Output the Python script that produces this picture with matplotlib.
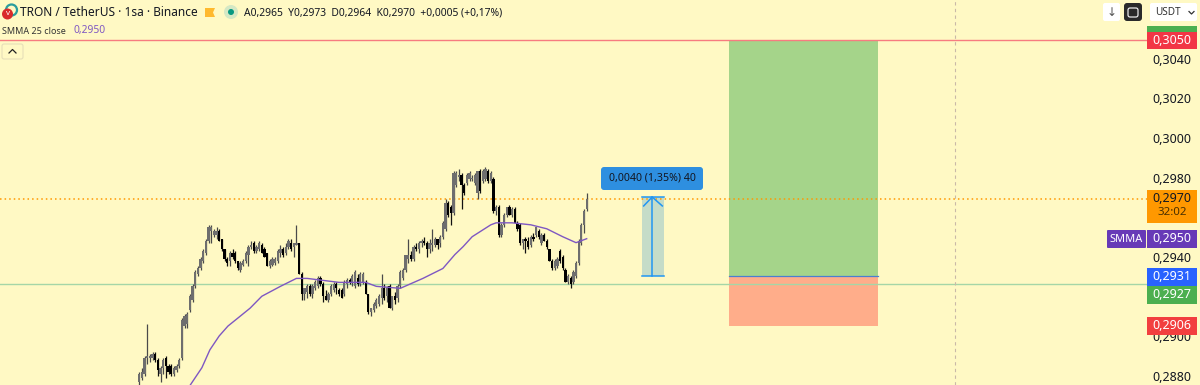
import matplotlib
matplotlib.use("Agg")
import matplotlib.pyplot as plt
from matplotlib.patches import Rectangle, FancyBboxPatch, Circle, Polygon

plt.rcParams['font.family'] = ['Noto Sans', 'DejaVu Sans']

# prices are in units of 0.0001
opens = [2878,2880,2882,2890,2890,2890,2892,2889,2882,2885,2890,2886,2886,2882,2884,2886,2890,
         2906,2907,2914,2919,2926,2932,2935,2939,2943,2949,2954,2952,2952,2954,2950,2945,2940,2939,2943,2943,
         2939,2934,2937,2939,2942,2946,2948,2944,2945,2947,2945,2943,2936,2937,2938,2939,2943,2945,2943,2946,
         2948,2946,2947,2948,2932,2922,2923,2926,2922,2925,2926,2930,2927,2921,2919,2922,2924,2927,2924,2924,
         2922,2927,2929,2928,2926,2930,2927,2928,2928,2922,2913,2914,2916,2917,2920,2925,2921,2926,2915,2921,
         2920,2926,2930,2934,2940,2942,2940,2946,2945,2948,2949,2948,2945,2947,2947,2950,2948,2951,2955,2968,
         2966,2963,2977,2981,2982,2977,2978,2980,2980,2978,2973,2984,2979,2980,2984,2979,2980,2964,2966,2952,
         2957,2962,2966,2962,2965,2958,2957,2948,2950,2949,2947,2951,2952,2954,2948,2952,2949,2945,2939,2935,
         2936,2944,2941,2934,2928,2930,2928,2931,2938,2948,2957,2965]
highs = [2883,2885,2891,2907,2892,2893,2893,2890,2886,2890,2891,2887,2887,2886,2887,2890,2910,
         2912,2913,2922,2927,2934,2936,2941,2945,2950,2957,2957,2955,2956,2955,2950,2945,2941,2944,2945,2944,
         2939,2939,2940,2944,2947,2949,2949,2947,2949,2948,2946,2943,2940,2941,2941,2945,2947,2946,2948,2950,
         2950,2948,2957,2948,2933,2925,2927,2927,2927,2929,2931,2931,2928,2924,2923,2927,2928,2928,2925,2925,
         2929,2930,2930,2932,2934,2932,2933,2933,2929,2922,2915,2918,2920,2922,2932,2927,2926,2927,2921,2923,
         2927,2934,2935,2942,2950,2944,2947,2948,2949,2950,2951,2949,2950,2955,2951,2950,2952,2959,2970,2969,
         2967,2984,2984,2985,2983,2978,2983,2984,2982,2983,2984,2985,2985,2986,2985,2984,2981,2967,2967,2958,
         2963,2966,2967,2966,2966,2959,2958,2950,2951,2951,2952,2953,2956,2955,2953,2953,2950,2945,2940,2940,
         2941,2945,2942,2935,2932,2931,2934,2939,2950,2958,2965,2973]
lows = [2876,2879,2881,2887,2888,2889,2888,2881,2878,2882,2880,2882,2881,2881,2883,2885,2889,
        2905,2905,2913,2918,2925,2931,2934,2938,2942,2948,2948,2951,2950,2949,2944,2939,2936,2936,2940,2938,
        2934,2933,2936,2938,2936,2945,2943,2943,2944,2943,2941,2936,2935,2936,2937,2938,2941,2941,2942,2945,
        2944,2941,2947,2932,2919,2919,2920,2921,2920,2924,2925,2926,2918,2919,2918,2921,2923,2922,2921,2920,
        2921,2925,2927,2926,2925,2926,2926,2927,2922,2912,2911,2913,2915,2916,2917,2919,2918,2915,2914,2917,
        2918,2925,2929,2933,2938,2939,2939,2944,2943,2946,2947,2941,2943,2944,2946,2945,2946,2950,2954,2961,
        2957,2962,2976,2979,2965,2972,2977,2979,2979,2977,2970,2973,2978,2979,2978,2978,2963,2962,2951,2951,
        2956,2961,2962,2961,2958,2954,2947,2945,2943,2945,2946,2949,2951,2950,2947,2949,2945,2939,2934,2934,
        2935,2938,2934,2928,2927,2925,2927,2930,2937,2947,2953,2964]
closes = [2882,2883,2890,2891,2891,2892,2889,2884,2885,2889,2886,2883,2882,2885,2886,2889,2909,
          2911,2912,2921,2926,2933,2935,2940,2944,2949,2956,2956,2954,2954,2949,2945,2940,2938,2943,2941,2939,
          2935,2938,2939,2943,2946,2947,2944,2946,2948,2943,2941,2936,2939,2940,2940,2944,2945,2942,2946,2949,
          2945,2948,2948,2932,2922,2925,2926,2922,2926,2928,2930,2927,2921,2919,2922,2926,2927,2925,2922,2920,
          2928,2929,2928,2931,2933,2927,2932,2932,2922,2913,2915,2917,2919,2921,2925,2920,2925,2915,2921,2919,
          2926,2933,2934,2942,2942,2940,2946,2945,2948,2949,2948,2945,2948,2947,2950,2947,2951,2958,2968,2962,
          2963,2983,2983,2982,2977,2973,2982,2983,2980,2982,2984,2974,2984,2985,2979,2983,2964,2966,2952,2957,
          2962,2966,2962,2965,2958,2955,2948,2950,2949,2946,2951,2950,2956,2951,2952,2949,2946,2939,2935,2939,
          2940,2939,2935,2928,2931,2927,2933,2938,2949,2957,2964,2970]

smma_bars = [19,23.5,26.5,30,33.3,37,41.6,46,53,59,63,69,75,85,89,98,106.5,114,118.5,121.6,125,132,134,140,147,153,159,164,168]
smma_vals = [2876,2885,2894,2901,2906,2910,2915,2921,2926,2930,2930,2929,2928,2928,2926,2925,2930,2935,2942,
             2946,2951,2957,2958,2958,2957,2955,2951,2948,2950]

tick_prices = [3040,3020,3000,2980,2940,2900,2880]
tick_labels = ["0,3040","0,3020","0,3000","0,2980","0,2940","0,2900","0,2880"]

target_price = 3050
entry_price = 2931
stop_price = 2906
support_price = 2927
last_price = 2970
ruler_top = 2971
ruler_bottom = 2931

W, H = 1200, 385
BG = "#FFF9C4"
bar_step = 2.663
first_px = 139.3
y_at_2970 = 199.0
px_per_unit = 1.985

fig = plt.figure(figsize=(W/100, H/100), dpi=100, facecolor=BG)
ax = fig.add_axes([0, 0, 1, 1], facecolor=BG)
ax.set_xlim(-first_px/bar_step, (W-first_px)/bar_step)
ax.set_ylim(2970-(H-y_at_2970)/px_per_unit, 2970+y_at_2970/px_per_unit)
ax.axis("off")
axis_end = (1147-first_px)/bar_step


# pixel helpers for the chrome around the chart
def fx(x):
    return x/W


def fy(y):
    return 1-y/H


def box(x0, y0, x1, y1, color, z=10, round_px=0, edge="none"):
    if round_px:
        p = FancyBboxPatch((x0, H-y1), x1-x0, y1-y0, boxstyle="round,pad=0,rounding_size=%g" % round_px,
                           fc=color, ec=edge, lw=0.8, transform=None, zorder=z)
    else:
        p = Rectangle((x0, H-y1), x1-x0, y1-y0, fc=color, ec=edge, lw=0.8, transform=None, zorder=z)
    fig.add_artist(p)


def label(x, y, s, size=12, color="#131722", ha="center", z=11, **kw):
    fig.text(fx(x), fy(y), s, fontsize=size*0.72, color=color, ha=ha, va="center", zorder=z, **kw)


# position drawing
ax.add_patch(Rectangle((221.4, entry_price), 56, target_price-entry_price, fc="#A5D48A", ec="none", zorder=1))
ax.add_patch(Rectangle((221.4, stop_price), 56, entry_price-stop_price, fc="#FFAD8A", ec="none", zorder=1))
ax.plot([221.4, 277.4], [entry_price, entry_price], color="#4A7FD0", lw=0.9, zorder=2)

# horizontal levels and crosshair
ax.plot([ax.get_xlim()[0], axis_end], [target_price]*2, color="#F77C80", lw=1, zorder=3)
ax.plot([ax.get_xlim()[0], axis_end], [support_price]*2, color="#A5D6A7", lw=1, zorder=3)
ax.plot([ax.get_xlim()[0], axis_end], [last_price]*2, color="#FF9800", lw=1.1, ls=(0, (1, 2)), zorder=3)
ax.axvline(306.3, color="#C9B9A8", lw=0.8, ls=(0, (3, 3)), zorder=3)

# candles
for i in range(len(opens)):
    up = closes[i] >= opens[i]
    ax.plot([i, i], [lows[i], highs[i]], color="#4A4A4A" if up else "#111111", lw=0.9, zorder=4, solid_capstyle="butt")
    ax.bar(i, max(abs(closes[i]-opens[i]), 0.6), bottom=min(opens[i], closes[i]), width=0.85,
           color="#6E6E6E" if up else "#000000", linewidth=0, zorder=5)

ax.plot(smma_bars, smma_vals, color="#7E57C2", lw=1, zorder=6)

# ruler
ax.add_patch(Rectangle((188.8, ruler_bottom), 8.2, ruler_top-ruler_bottom, fc="#C5DCC8", ec="none", zorder=2))
ax.plot([192.6, 192.6], [ruler_bottom, ruler_top], color="#2196F3", lw=1.1, zorder=3)
ax.plot([188.8, 197], [ruler_top]*2, color="#2196F3", lw=1.1, zorder=3)
ax.plot([188.8, 197], [ruler_bottom]*2, color="#2196F3", lw=1.1, zorder=3)
ax.plot([189.4, 192.6, 196.4], [ruler_top-4.5, ruler_top, ruler_top-4.5], color="#2196F3", lw=1.1, zorder=3)
box(601, 167, 703, 190, "#2E8FE0", round_px=3)
label(652.5, 178.5, "0,0040 (1,35%) 40", size=10.6)

# price scale
for p, t in zip(tick_prices, tick_labels):
    ax.text(1172/W, p, t, transform=ax.get_yaxis_transform(), fontsize=12.5*0.72, color="#131722",
            ha="center", va="center", zorder=7)

box(1147, 26, 1197, 32, "#4CAF50")
box(1147, 32, 1197, 49, "#F23645")
label(1172, 40.5, "0,3050", size=12.5, color="white")
box(1147, 190, 1197, 223, "#FF9800")
label(1172, 198.5, "0,2970", size=12.5)
label(1172, 213, "32:02", size=11.5, color="#4A3000")
box(1107, 230, 1146, 248, "#673AB7", round_px=1)
label(1126.5, 239, "SMMA", size=11, color="white")
box(1147, 230, 1197, 248, "#673AB7")
label(1172, 239, "0,2950", size=12.5, color="white")
box(1147, 268, 1197, 286, "#2962FF")
label(1172, 276.5, "0,2931", size=12.5, color="white")
box(1147, 286, 1197, 304, "#4CAF50")
label(1172, 294.5, "0,2927", size=12.5, color="white")
box(1147, 317, 1197, 335, "#F23F3F")
label(1172, 325.5, "0,2906", size=12.5, color="white")

# top right buttons
box(1103, 3, 1120, 21, "white", round_px=2)
label(1111.5, 12, "↓", size=12, color="#555555")
box(1124, 3, 1142, 21, "#2A2A2A", round_px=3)
box(1128, 8, 1138, 17, "#2A2A2A", round_px=2, edge="white", z=11)
box(1150, 3, 1197, 21, "white", round_px=2)
label(1155, 12.5, "USDT", size=10, ha="left", color="#333333")
fig.add_artist(plt.Line2D([fx(1189), fx(1191.5), fx(1194)], [fy(11.5), fy(14), fy(11.5)], color="#333333", lw=0.9, zorder=11))

# header
fig.add_artist(Circle((11.5, H-10), 5.5, fc=BG, ec="#2A9D9D", lw=1.6, transform=None, zorder=10))
fig.add_artist(Circle((7.5, H-14), 5.5, fc="#D92B2B", ec="none", transform=None, zorder=11))
label(7.5, 13.5, "v", size=8, color="white", z=12, fontweight="bold")
label(20, 13, "TRON / TetherUS · 1sa · Binance", size=11.9, ha="left")
fig.add_artist(Polygon([(205, H-8), (215, H-8), (213, H-12.5), (215, H-17), (205, H-17)], fc="#FFB92E", ec="none",
                       transform=None, zorder=10))
fig.add_artist(Circle((231, H-12), 7, fc="#D5E8C4", ec="none", transform=None, zorder=10))
fig.add_artist(Circle((231, H-12), 3, fc="#089981", ec="none", transform=None, zorder=11))
label(244, 13, "A0,2965  Y0,2973  D0,2964  K0,2970  +0,0005 (+0,17%)", size=10.35, ha="left")
label(2, 31, "SMMA 25 close", size=9, ha="left", color="#333333")
label(73, 31, "0,2950", size=10.2, ha="left", color="#7E57C2")
box(2, 44, 23, 59, BG, round_px=2, edge="#E6DFB8")
fig.add_artist(plt.Line2D([fx(9), fx(12.5), fx(16)], [fy(53), fy(49.5), fy(53)], color="#222222", lw=0.9, zorder=11))

fig.savefig("out.png", dpi=100, facecolor=BG)
